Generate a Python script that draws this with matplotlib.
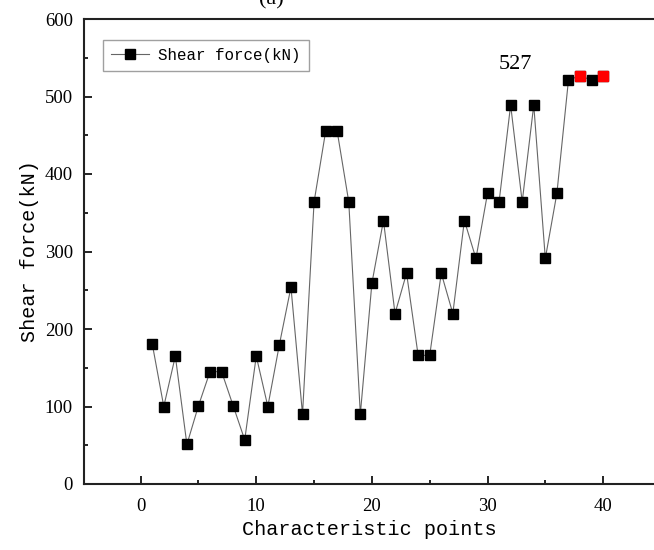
import numpy as np
import matplotlib
matplotlib.use("Agg")
import matplotlib.pyplot as plt
from matplotlib.ticker import MultipleLocator

# shear force at each characteristic point (kN)
points = list(range(1, 41))
shear = [181, 100, 165, 51, 101, 145, 145, 101, 57, 165,
         100, 180, 254, 90, 364, 455, 455, 364, 90, 259,
         340, 220, 272, 166, 166, 272, 220, 340, 291, 375,
         364, 489, 364, 489, 291, 375, 521, 527, 521, 527]
# points carrying the maximum value
peak_points = [38, 40]
peak_value = 527

serif = "Liberation Serif"
mono = "Liberation Mono"

fig = plt.figure(figsize=(6.54, 5.5), dpi=100)
ax = fig.add_axes([84 / 654, 66 / 550, 570 / 654, 465 / 550])

ax.plot(points, shear, color="#666666", lw=0.8, marker="s", ms=7.5,
        mfc="black", mec="black", label="Shear force(kN)", zorder=2)
peak_y = [shear[p - 1] for p in peak_points]
ax.plot(peak_points, peak_y, ls="none", marker="s", ms=7.5,
        mfc="red", mec="red", zorder=3)
ax.text(32.4, 529, str(peak_value), ha="center", va="bottom",
        fontsize=16, family=serif)

ax.set_xlim(-4.9, 44.4)
ax.set_ylim(0, 600)
ax.xaxis.set_major_locator(MultipleLocator(10))
ax.xaxis.set_minor_locator(MultipleLocator(5))
ax.yaxis.set_major_locator(MultipleLocator(100))
ax.yaxis.set_minor_locator(MultipleLocator(50))
ax.tick_params(which="both", direction="in", top=False, right=False, width=1.2)
ax.tick_params(which="major", length=6, labelsize=13.5)
ax.tick_params(which="minor", length=3)
ax.tick_params(axis="x", which="major", pad=10)
ax.tick_params(axis="y", which="major", pad=8)
for lab in ax.get_xticklabels() + ax.get_yticklabels():
    lab.set_family(serif)

for s in ["left", "bottom", "top"]:
    ax.spines[s].set_linewidth(1.5)
    ax.spines[s].set_color("#222222")
ax.spines["right"].set_visible(False)

ax.set_xlabel("Characteristic points", family=mono, fontsize=14.5, labelpad=4)
ax.set_ylabel("Shear force(kN)", family=mono, fontsize=14.5, labelpad=4)

leg = ax.legend(loc="upper left", bbox_to_anchor=(0.033, 0.955), borderaxespad=0,
                frameon=True, fancybox=False, edgecolor="#888888",
                handlelength=2.4, handletextpad=0.6, borderpad=0.5,
                prop={"family": mono, "size": 11.4})
leg.get_frame().set_linewidth(1.0)

fig.text(0.415, 1.0, "(a)", ha="center", va="center", fontsize=16, family=serif)

fig.savefig("out.png", dpi=100)
